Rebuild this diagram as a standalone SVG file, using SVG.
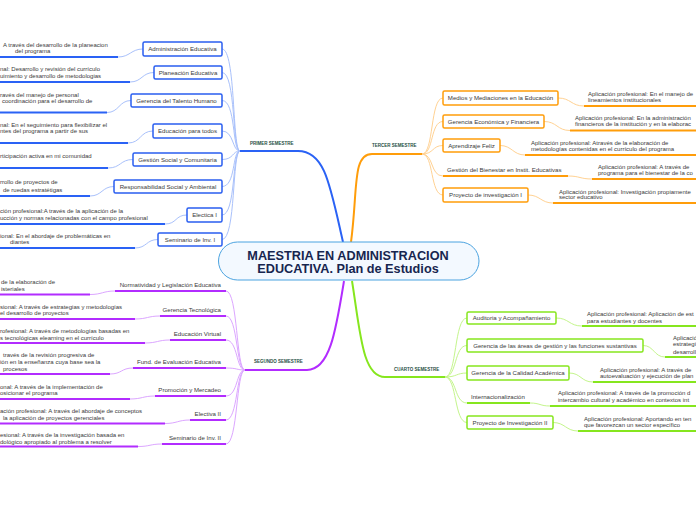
<svg xmlns="http://www.w3.org/2000/svg" width="696" height="520" viewBox="0 0 696 520">
<style>
text{font-family:"Liberation Sans",Arial,sans-serif;fill:#3a3a3a}
.t{font-size:6px}
.l{font-size:6.1px}
.h{font-size:4.5px;font-weight:bold;fill:#1f4f45}
.c{font-size:12.7px;font-weight:bold;fill:#17264f;text-anchor:middle}
.mc{text-anchor:middle}
.ee{text-anchor:end}
.bb{fill:#fff;stroke:#2a5ef0;stroke-width:1.5}
.ob{fill:#fff;stroke:#ff9d0a;stroke-width:1.5}
.gb{fill:#fff;stroke:#86e61e;stroke-width:1.5}
.bl{fill:none;stroke:#a9c1fb;stroke-width:1}
.bu{fill:none;stroke:#2a62f5;stroke-width:2}
.pl{fill:none;stroke:#dca6ff;stroke-width:1}
.pu{fill:none;stroke:#b22cff;stroke-width:2}
.ol{fill:none;stroke:#ffd293;stroke-width:1}
.ou{fill:none;stroke:#ff9d0a;stroke-width:2}
.gl{fill:none;stroke:#c4f58c;stroke-width:1}
.gu{fill:none;stroke:#86e61e;stroke-width:2}
</style>
<g id="connectors">
<path class="bu" d="M343,242 C330,185 325,151 298,151 L240,151"/>
<path class="ou" d="M351,242 C358,190 352,154 372,154 L422,154"/>
<path class="pu" d="M344,281 C336,330 330,370 307,370 L245,370"/>
<path class="gu" d="M352,281 C360,330 362,377 385,377 L445,377"/>
<path class="bl" d="M222,49 C236,49 232,151 240,151"/>
<path class="bl" d="M222,72.5 C236,72.5 232,151 240,151"/>
<path class="bl" d="M222,100.5 C236,100.5 232,151 240,151"/>
<path class="bl" d="M222,131 C234,131 232,151 240,151"/>
<path class="bl" d="M222,159.5 C234,159.5 232,151 240,151"/>
<path class="bl" d="M222,186.5 C236,186.5 232,151 240,151"/>
<path class="bl" d="M222,215 C236,215 232,151 240,151"/>
<path class="bl" d="M222,239.5 C236,239.5 232,151 240,151"/>
<path class="bl" d="M143,49 C131,49 130,57 118,57"/><path class="bu" d="M118,57 L-5,57"/>
<path class="bl" d="M154,72.5 C142,72.5 142,82 130,82"/><path class="bu" d="M130,82 L-5,82"/>
<path class="bl" d="M131,100.5 C119,100.5 119,112.5 107,112.5"/><path class="bu" d="M107,112.5 L-5,112.5"/>
<path class="bl" d="M153,131 C140,131 141,143 128,143"/><path class="bu" d="M128,143 L-5,143"/>
<path class="bl" d="M133,159.5 C120,159.5 121,168 108,168"/><path class="bu" d="M108,168 L-5,168"/>
<path class="bl" d="M114,186.5 C102,186.5 102,196 90,196"/><path class="bu" d="M90,196 L-5,196"/>
<path class="bl" d="M187,215 C175,215 177,224 165,224"/><path class="bu" d="M165,224 L-5,224"/>
<path class="bl" d="M158,239.5 C146,239.5 147,248 135,248"/><path class="bu" d="M135,248 L-5,248"/>
<path class="pl" d="M226,291 C238,291 236,370 245,370"/>
<path class="pl" d="M226,316 C238,316 236,370 245,370"/>
<path class="pl" d="M226,340 C238,340 236,370 245,370"/>
<path class="pl" d="M226,368 C238,368 236,370 245,370"/>
<path class="pl" d="M226,396 C238,396 236,370 245,370"/>
<path class="pl" d="M226,420 C238,420 236,370 245,370"/>
<path class="pl" d="M226,444 C238,444 236,370 245,370"/>
<path class="pu" d="M226,291 L115,291"/><path class="pl" d="M115,291 C103,291 102,294.5 90,294.5"/><path class="pu" d="M90,294.5 L-5,294.5"/>
<path class="pu" d="M226,316 L160,316"/><path class="pl" d="M160,316 C148,316 147,319 135,319"/><path class="pu" d="M135,319 L-5,319"/>
<path class="pu" d="M226,340 L170,340"/><path class="pl" d="M170,340 C158,340 157,343 145,343"/><path class="pu" d="M145,343 L-5,343"/>
<path class="pu" d="M226,368 L133,368"/><path class="pl" d="M133,368 C121,368 122,374 110,374"/><path class="pu" d="M110,374 L-5,374"/>
<path class="pu" d="M226,396 L155,396"/><path class="pl" d="M155,396 C143,396 142,399 130,399"/><path class="pu" d="M130,399 L-5,399"/>
<path class="pu" d="M226,420 L190,420"/><path class="pl" d="M190,420 C178,420 177,423.5 165,423.5"/><path class="pu" d="M165,423.5 L-5,423.5"/>
<path class="pu" d="M226,444 L162,444"/><path class="pl" d="M162,444 C150,444 150,446.5 138,446.5"/><path class="pu" d="M138,446.5 L-5,446.5"/>
<path class="ol" d="M422,154 C434,154 430,98 443,98"/>
<path class="ol" d="M422,154 C434,154 430,121.5 443,121.5"/>
<path class="ol" d="M422,154 C434,154 432,145.5 443,145.5"/>
<path class="ol" d="M422,154 C434,154 430,176 443,176"/>
<path class="ol" d="M422,154 C434,154 430,195 443,195"/>
<path class="ol" d="M558,98 C571,98 571,106 584,106"/><path class="ou" d="M584,106 L700,106"/>
<path class="ol" d="M544,121.5 C557,121.5 557,130.5 570,130.5"/><path class="ou" d="M570,130.5 L700,130.5"/>
<path class="ol" d="M500,145.5 C512,145.5 513,155 525,155"/><path class="ou" d="M525,155 L700,155"/>
<path class="ou" d="M443,176 L568,176"/><path class="ol" d="M568,176 C580,176 580,179 592,179"/><path class="ou" d="M592,179 L700,179"/>
<path class="ol" d="M528,195 C540,195 541,203 553,203"/><path class="ou" d="M553,203 L700,203"/>
<path class="gl" d="M445,377 C457,377 454,318 467,318"/>
<path class="gl" d="M445,377 C457,377 454,345.5 467,345.5"/>
<path class="gl" d="M445,377 C457,377 456,373 467,373"/>
<path class="gl" d="M445,377 C457,377 454,403 467,403"/>
<path class="gl" d="M445,377 C457,377 454,422.5 467,422.5"/>
<path class="gl" d="M556,318 C569,318 569,326 582,326"/><path class="gu" d="M582,326 L700,326"/>
<path class="gl" d="M643,345.5 C654,345.5 654,357 665,357"/><path class="gu" d="M665,357 L700,357"/>
<path class="gl" d="M569,373 C581,373 581,382 593,382"/><path class="gu" d="M593,382 L700,382"/>
<path class="gu" d="M467,403 L530,403"/><path class="gl" d="M530,403 C540,403 540,406 550,406"/><path class="gu" d="M550,406 L700,406"/>
<path class="gl" d="M553,422.5 C565,422.5 566,431 578,431"/><path class="gu" d="M578,431 L700,431"/>
</g>

<g id="central">
<rect x="218.5" y="242" width="260.5" height="38" rx="19" fill="#f3f9ff" stroke="#4ba3e0" stroke-width="1"/>
<text class="c" x="348" y="260">MAESTRIA EN ADMINISTRACION</text>
<text class="c" x="348" y="272.5">EDUCATIVA. Plan de Estudios</text>
</g>

<g id="primer-semestre"><text class="h" x="250" y="144.6">PRIMER SEMESTRE</text></g>
<g id="tercer-semestre"><text class="h" x="372" y="147">TERCER SEMESTRE</text></g>
<g id="segundo-semestre"><text class="h" x="254" y="363">SEGUNDO SEMESTRE</text></g>
<g id="cuarto-semestre"><text class="h" x="394" y="371">CUARTO SEMESTRE</text></g>

<g id="b1"><rect class="bb" x="143" y="42" width="79" height="14" rx="1.5"/><text class="l mc" x="182.5" y="51.2">Administración Educativa</text></g>
<g id="b1t"><text class="t" x="3" y="47">A través del desarrollo de la planeacion</text><text class="t" x="15" y="53">del programa</text></g>
<g id="b2"><rect class="bb" x="154" y="66" width="68" height="13" rx="1.5"/><text class="l mc" x="188" y="74.7">Planeación Educativa</text></g>
<g id="b2t"><text class="t" x="0" y="71">nal: Desarrollo y revisión del currículo</text><text class="t" x="0" y="78">uimiento y desarrollo de metodologias</text></g>
<g id="b3"><rect class="bb" x="131" y="94" width="91" height="13" rx="1.5"/><text class="l mc" x="176.5" y="102.7">Gerencia del Talento Humano</text></g>
<g id="b3t"><text class="t" x="0" y="97">ravés del manejo de personal</text><text class="t" x="2" y="103">coordinación para el desarrollo de</text></g>
<g id="b4"><rect class="bb" x="153" y="124" width="69" height="14" rx="1.5"/><text class="l mc" x="187.5" y="133.2">Educación para todos</text></g>
<g id="b4t"><text class="t" x="0" y="127">nal: En el seguimiento para flexibilizar el</text><text class="t" x="0" y="133">ntes del programa a partir de sus</text></g>
<g id="b5"><rect class="bb" x="133" y="153" width="89" height="13" rx="1.5"/><text class="l mc" x="177.5" y="161.7">Gestión Social y Comunitaria</text></g>
<g id="b5t"><text class="t" x="0" y="158">rticipación activa en mi comunidad</text></g>
<g id="b6"><rect class="bb" x="114" y="180" width="108" height="13" rx="1.5"/><text class="l mc" x="168" y="188.7">Responsabilidad Social y Ambiental</text></g>
<g id="b6t"><text class="t" x="0" y="184">rrollo de proyectos de</text><text class="t" x="3" y="192">de ruedas estratétigas</text></g>
<g id="b7"><rect class="bb" x="187" y="208" width="35" height="14" rx="1.5"/><text class="l mc" x="204.5" y="217.2">Electica I</text></g>
<g id="b7t"><text class="t" x="0" y="213">ción profesional:A través de la aplicación de la</text><text class="t" x="0" y="220">ucción y normas relacionadas con el campo profesional</text></g>
<g id="b8"><rect class="bb" x="158" y="233" width="64" height="13" rx="1.5"/><text class="l mc" x="190" y="241.7">Seminario de Inv. I</text></g>
<g id="b8t"><text class="t" x="0" y="238">ional: En el abordaje de problemáticas en</text><text class="t" x="10" y="244">diantes</text></g>

<g id="p1"><text class="l ee" x="221" y="287">Normatividad y Legislación Educativa</text></g>
<g id="p1t"><text class="t" x="1" y="284">de la elaboración de</text><text class="t" x="1" y="291">isteriales</text></g>
<g id="p2"><text class="l ee" x="221" y="312">Gerencia Tecnológica</text></g>
<g id="p2t"><text class="t" x="0" y="309">sional: A través de estrategias y metodologías</text><text class="t" x="0" y="315">el desarrollo de proyectos</text></g>
<g id="p3"><text class="l ee" x="221" y="335.5">Educación Virtual</text></g>
<g id="p3t"><text class="t" x="0" y="333">rofesional: A través de metodologías basadas en</text><text class="t" x="0" y="340">s tecnológicas elearning en el currículo</text></g>
<g id="p4"><text class="l ee" x="221" y="364">Fund. de Evaluación Educativa</text></g>
<g id="p4t"><text class="t" x="3" y="357">través de la revisión progresiva de</text><text class="t" x="0" y="364">ión en la enseñanza cuya base sea la</text><text class="t" x="3" y="371">procesos</text></g>
<g id="p5"><text class="l ee" x="221" y="392">Promoción y Mercadeo</text></g>
<g id="p5t"><text class="t" x="0" y="389">onal: A través de la implementación de</text><text class="t" x="0" y="395">osicionar el programa</text></g>
<g id="p6"><text class="l ee" x="221" y="416">Electiva II</text></g>
<g id="p6t"><text class="t" x="0" y="413">ación profesional: A través del abordaje de conceptos</text><text class="t" x="3" y="420">la aplicación de proyectos gerenciales</text></g>
<g id="p7"><text class="l ee" x="221" y="440">Seminario de Inv. II</text></g>
<g id="p7t"><text class="t" x="0" y="437">esional: A través de la investigación basada en</text><text class="t" x="0" y="444">dológico apropiado al problema a resolver</text></g>

<g id="o1"><rect class="ob" x="443" y="91" width="115" height="14" rx="1.5"/><text class="l mc" x="500.5" y="100.2">Medios y Mediaciones en la Educación</text></g>
<g id="o1t"><text class="t" x="588" y="96">Aplicación profesional: En el manejo de</text><text class="t" x="588" y="102">lineamientos institucionales</text></g>
<g id="o2"><rect class="ob" x="443" y="115" width="101" height="13" rx="1.5"/><text class="l mc" x="493.5" y="123.7">Gerencia Económica y Financiera</text></g>
<g id="o2t"><text class="t" x="575" y="120">Aplicación profesional: En la administración</text><text class="t" x="575" y="126">financieros de la institución y en la elaborac</text></g>
<g id="o3"><rect class="ob" x="443" y="139" width="57" height="13" rx="1.5"/><text class="l mc" x="471.5" y="147.7">Aprendizaje Feliz</text></g>
<g id="o3t"><text class="t" x="531" y="145">Aplicación profesional: Através de la elaboración de</text><text class="t" x="531" y="151">metodologías contenidas en el currículo del programa</text></g>
<g id="o4"><text class="l" x="447" y="172">Gestión del Bienestar en Instit. Educativas</text></g>
<g id="o4t"><text class="t" x="598" y="168.5">Aplicación profesional: A través de</text><text class="t" x="598" y="175">programa para el bienestar de la co</text></g>
<g id="o5"><rect class="ob" x="443" y="188" width="85" height="14" rx="1.5"/><text class="l mc" x="485.5" y="197.2">Proyecto de investigación I</text></g>
<g id="o5t"><text class="t" x="559" y="193.5">Aplicación profesional: Investigación propiamente</text><text class="t" x="559" y="199">sector educativo</text></g>

<g id="g1"><rect class="gb" x="467" y="312" width="89" height="12" rx="1.5"/><text class="l mc" x="511.5" y="320.2">Auditoria y Acompañamiento</text></g>
<g id="g1t"><text class="t" x="587" y="316">Aplicación profesional: Aplicación de est</text><text class="t" x="587" y="322.5">para estudiantes y docentes</text></g>
<g id="g2"><rect class="gb" x="467" y="339" width="176" height="13" rx="1.5"/><text class="l mc" x="555" y="347.7">Gerencia de las áreas de gestión y las funciones sustantivas</text></g>
<g id="g2t"><text class="t" x="673" y="340">Aplicació</text><text class="t" x="673" y="346">estrategi</text><text class="t" x="673" y="353.5">desarroll</text></g>
<g id="g3"><rect class="gb" x="467" y="366" width="102" height="14" rx="1.5"/><text class="l mc" x="518" y="375.2">Gerencia de la Calidad Académica</text></g>
<g id="g3t"><text class="t" x="600" y="372">Aplicación profesional: A través de</text><text class="t" x="600" y="377.5">autoevaluación y ejecución de plan</text></g>
<g id="g4"><text class="l" x="471" y="398.5">Internacionalización</text></g>
<g id="g4t"><text class="t" x="558" y="395">Aplicación profesional: A través de la promoción d</text><text class="t" x="558" y="402">intercambio cultural y académico en contextos int</text></g>
<g id="g5"><rect class="gb" x="467" y="416" width="86" height="13" rx="1.5"/><text class="l mc" x="510" y="424.7">Proyecto de Investigación II</text></g>
<g id="g5t"><text class="t" x="584" y="421">Aplicación profesional: Aportando en ten</text><text class="t" x="584" y="427">que favorezcan un sector específico</text></g>
</svg>
